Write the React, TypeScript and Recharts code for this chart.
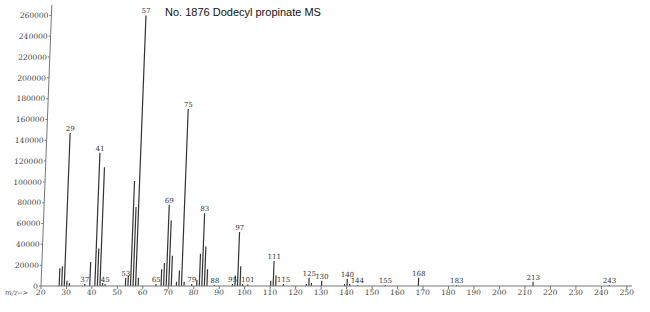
import { BarChart, Bar, XAxis, YAxis, LabelList } from "recharts"

const mzValues = [
  27, 28, 29, 30, 31, 37, 39, 41, 42, 43, 44, 45, 53, 54, 55, 56, 57, 58, 65, 67, 68, 69, 70, 71, 73, 74,
  75, 76, 79, 81, 82, 83, 84, 85, 88, 95, 96, 97, 98, 99, 101, 110, 111, 112, 115, 124, 125, 126, 130,
  139, 140, 141, 144, 155, 168, 183, 213, 243,
]
const intensities = [
  17000, 19000, 147000, 5000, 3000, 2000, 23000, 128000, 36000, 114000, 3000, 2000, 8000, 10000, 101000,
  76000, 260000, 8000, 2000, 16000, 22000, 78000, 63000, 29000, 4000, 15000, 170000, 4000, 2000, 6000,
  31000, 70000, 38000, 16000, 1000, 2000, 10000, 52000, 19000, 2000, 1500, 5000, 24000, 10000, 2000,
  2000, 8000, 3000, 5000, 2000, 7000, 2000, 1000, 1000, 8000, 1000, 4000, 1000,
]
const labeledPeaks = [
  29, 37, 41, 45, 53, 57, 65, 69, 75, 79, 83, 88, 95, 97, 101, 111, 115, 125, 130, 140, 144, 155, 168,
  183, 213, 243,
]
const xTicks = [20, 30, 40, 50, 60, 70, 80, 90, 100, 110, 120, 130, 140, 150, 160, 170, 180, 190, 200, 210, 220, 230, 240, 250]
const yTicks = [0, 20000, 40000, 60000, 80000, 100000, 120000, 140000, 160000, 180000, 200000, 220000, 240000, 260000]

const data = mzValues.map((m, i) => ({
  mz: m,
  abundance: intensities[i],
  tag: labeledPeaks.includes(m) ? String(m) : "",
}))

const tickFont = { fontSize: 7.5, fill: "#444", fontFamily: "DejaVu Serif" }

export default function App() {
  return (
    <div style={{ position: "absolute", left: 0, top: 0, width: 650, height: 312, background: "#fff" }}>
      <div
        style={{
          position: "absolute",
          left: 165,
          top: 6,
          fontFamily: "Liberation Sans",
          fontSize: 11,
          color: "#111",
          whiteSpace: "nowrap",
          zIndex: 2,
        }}
      >
        No. 1876 Dodecyl propinate MS
      </div>
      <div
        style={{
          position: "absolute",
          left: 5,
          top: 289,
          fontFamily: "DejaVu Serif",
          fontSize: 7,
          color: "#555",
          fontStyle: "italic",
        }}
      >
        m/z--&gt;
      </div>
      {/* scanned spectrum leans slightly to the right */}
      <div style={{ position: "absolute", left: 0, top: 0, transform: "skewX(-2.2deg)", transformOrigin: "0px 286px" }}>
        <BarChart width={650} height={312} data={data} margin={{ top: 5, right: 18, left: 0, bottom: 0 }}>
          <XAxis
            type="number"
            dataKey="mz"
            domain={[20, 252]}
            ticks={xTicks}
            allowDataOverflow
            height={26}
            tick={tickFont}
            tickSize={3}
            tickMargin={1}
            stroke="#777"
          />
          <YAxis
            type="number"
            domain={[0, 270000]}
            ticks={yTicks}
            width={41}
            tick={tickFont}
            tickSize={2}
            tickMargin={1}
            stroke="#777"
            interval={0}
          />
          <Bar dataKey="abundance" fill="#333" barSize={1.2} isAnimationActive={false}>
            <LabelList dataKey="tag" position="top" offset={2} fontSize={7} fill="#333" fontFamily="DejaVu Serif" />
          </Bar>
        </BarChart>
      </div>
    </div>
  )
}
